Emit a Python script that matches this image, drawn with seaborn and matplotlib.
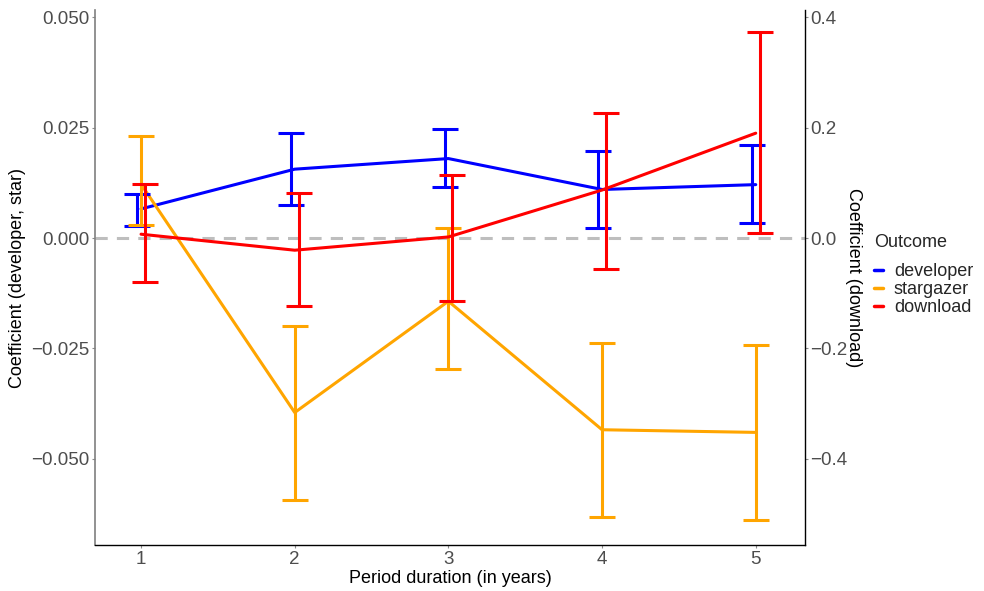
import matplotlib
matplotlib.use("Agg")
import matplotlib.pyplot as plt
import seaborn as sns
import pandas as pd
import numpy as np
from matplotlib.lines import Line2D

period = [1, 2, 3, 4, 5]
dev_est = [0.0066, 0.0156, 0.0180, 0.0110, 0.0121]
dev_lo = [0.0027, 0.0074, 0.0115, 0.0023, 0.0035]
dev_hi = [0.0099, 0.0239, 0.0246, 0.0198, 0.0210]
star_est = [0.0122, -0.0395, -0.0143, -0.0434, -0.0440]
star_lo = [0.0030, -0.0594, -0.0296, -0.0632, -0.0638]
star_hi = [0.0232, -0.0198, 0.0022, -0.0237, -0.0241]
dl_est = [0.007, -0.022, 0.002, 0.087, 0.190]
dl_lo = [-0.080, -0.123, -0.114, -0.056, 0.009]
dl_hi = [0.098, 0.081, 0.114, 0.227, 0.373]

outcomes = ["developer", "stargazer", "download"]
colors = {"developer": "#0000FF", "stargazer": "#FFA500", "download": "#FF0000"}
dodge = {"developer": -0.025, "stargazer": 0.0, "download": 0.025}

sns.set_theme(style="white")
plt.rcParams["font.family"] = ["Liberation Sans", "DejaVu Sans"]

fig = plt.figure(figsize=(9.84, 5.91), dpi=100)
ax = fig.add_axes([0.0965, 0.0778, 0.7215, 0.905])
ax2 = ax.twinx()

ax.axhline(0, color="#BEBEBE", lw=2.2, ls=(0, (4, 3)), zorder=1)

df_left = pd.DataFrame({
    "period": period * 2,
    "est": dev_est + star_est,
    "lo": dev_lo + star_lo,
    "hi": dev_hi + star_hi,
    "Outcome": ["developer"] * 5 + ["stargazer"] * 5,
})
df_right = pd.DataFrame({"period": period, "est": dl_est, "lo": dl_lo, "hi": dl_hi,
                         "Outcome": ["download"] * 5})

lw = 2.2
sns.lineplot(data=df_left, x="period", y="est", hue="Outcome", palette=colors,
             ax=ax, lw=lw, legend=False, zorder=3)
sns.lineplot(data=df_right, x="period", y="est", hue="Outcome", palette=colors,
             ax=ax2, lw=lw, legend=False, zorder=3)

for name, sub, a in [("developer", df_left[df_left.Outcome == "developer"], ax),
                     ("stargazer", df_left[df_left.Outcome == "stargazer"], ax),
                     ("download", df_right, ax2)]:
    x = sub["period"].to_numpy() + dodge[name]
    y = sub["est"].to_numpy()
    yerr = np.vstack([y - sub["lo"].to_numpy(), sub["hi"].to_numpy() - y])
    a.errorbar(x, y, yerr=yerr, fmt="none", ecolor=colors[name], elinewidth=lw,
               capsize=9.5, capthick=lw, zorder=3)

ax.set_xlim(0.70, 5.32)
ax.set_ylim(-0.0695, 0.0516)
ax2.set_ylim(-0.0695 * 8, 0.0516 * 8)
ax.set_xticks(period)
ax.set_yticks([-0.05, -0.025, 0, 0.025, 0.05])
ax.set_yticklabels(["\u22120.050", "\u22120.025", "0.000", "0.025", "0.050"])
ax2.set_yticks([-0.4, -0.2, 0, 0.2, 0.4])
ax2.set_yticklabels(["\u22120.4", "\u22120.2", "0.0", "0.2", "0.4"])

tick_col = "#4D4D4D"
for a in (ax, ax2):
    a.tick_params(axis="both", labelsize=13.5, labelcolor=tick_col, colors="#8C8C8C",
                  length=2.5, width=0.8, pad=1.5)
ax.tick_params(axis="y", left=True, colors="#8C8C8C", labelcolor=tick_col)
ax.tick_params(axis="x", bottom=True, colors="#8C8C8C", labelcolor=tick_col)
ax2.tick_params(axis="y", right=True, colors="#8C8C8C", labelcolor=tick_col)

for a in (ax, ax2):
    a.spines["top"].set_visible(False)
ax.spines["right"].set_visible(False)
ax2.spines["left"].set_visible(False)
ax2.spines["bottom"].set_visible(False)
ax.spines["left"].set_color("#7F7F7F")
ax.spines["left"].set_linewidth(1.2)
ax.spines["bottom"].set_color("#000000")
ax.spines["bottom"].set_linewidth(1.0)
ax2.spines["right"].set_color("#000000")
ax2.spines["right"].set_linewidth(1.0)

ax.set_xlabel("Period duration (in years)", fontsize=13, color="black", labelpad=2)
ax.set_ylabel("Coefficient (developer, star)", fontsize=13, color="black", labelpad=4)
ax2.set_ylabel("Coefficient (download)", fontsize=13, color="black", rotation=270,
               labelpad=10)

handles = [Line2D([0], [0], color=colors[o], lw=2.5) for o in outcomes]
leg = fig.legend(handles, outcomes, title="Outcome", loc="center left",
                 bbox_to_anchor=(0.881, 0.535), frameon=False, fontsize=13,
                 title_fontsize=13, handlelength=0.5, handletextpad=0.6,
                 labelspacing=0.05, borderaxespad=0)
leg._legend_box.align = "left"
leg._legend_box.sep = 9

fig.savefig("out.png", dpi=100)
